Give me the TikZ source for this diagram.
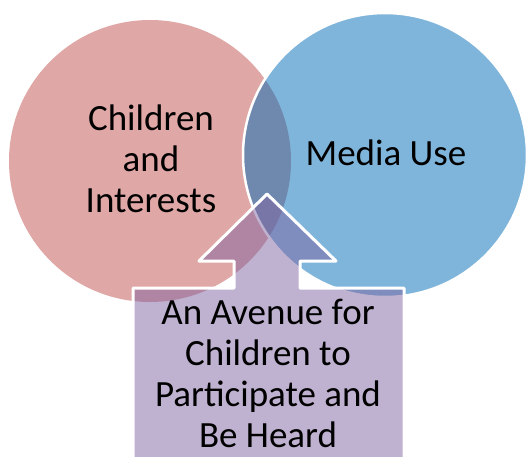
\documentclass[tikz,border=0pt]{standalone}
\usepackage{fontspec}
\setmainfont{Carlito}
\definecolor{pinkbase}{RGB}{192,80,77}
\definecolor{bluebase}{RGB}{0,107,183}
\definecolor{purplebase}{RGB}{128,100,162}
\tikzset{
  circtext/.style={align=center, font=\fontsize{37}{40.7}\selectfont, inner sep=0pt, anchor=base},
}
\begin{document}
\begin{tikzpicture}[x=1pt,y=-1pt]
\useasboundingbox (0,0) rectangle (528,456);
\clip (0,0) rectangle (528,456);
\fill[pinkbase, fill opacity=0.5] (150,161) circle[radius=141];
\draw[white, line width=2.5pt, fill=bluebase, fill opacity=0.5] (385,155) circle[radius=142];
\draw[white, line width=3pt, line join=round, fill=purplebase, fill opacity=0.5]
  (267,194) -- (336,261) -- (300,261) -- (300,288) -- (404,288) -- (404,480)
  -- (133,480) -- (133,288) -- (234,288) -- (234,261) -- (199,261) -- cycle;
\node[circtext] (ci) at (151,212) {Children\\and\\Interests};
\node[circtext] (mu) at (386,165) {Media Use};
\node[circtext] (av) at (268,447) {An Avenue for\\Children to\\Participate and\\Be Heard};
\end{tikzpicture}
\end{document}
